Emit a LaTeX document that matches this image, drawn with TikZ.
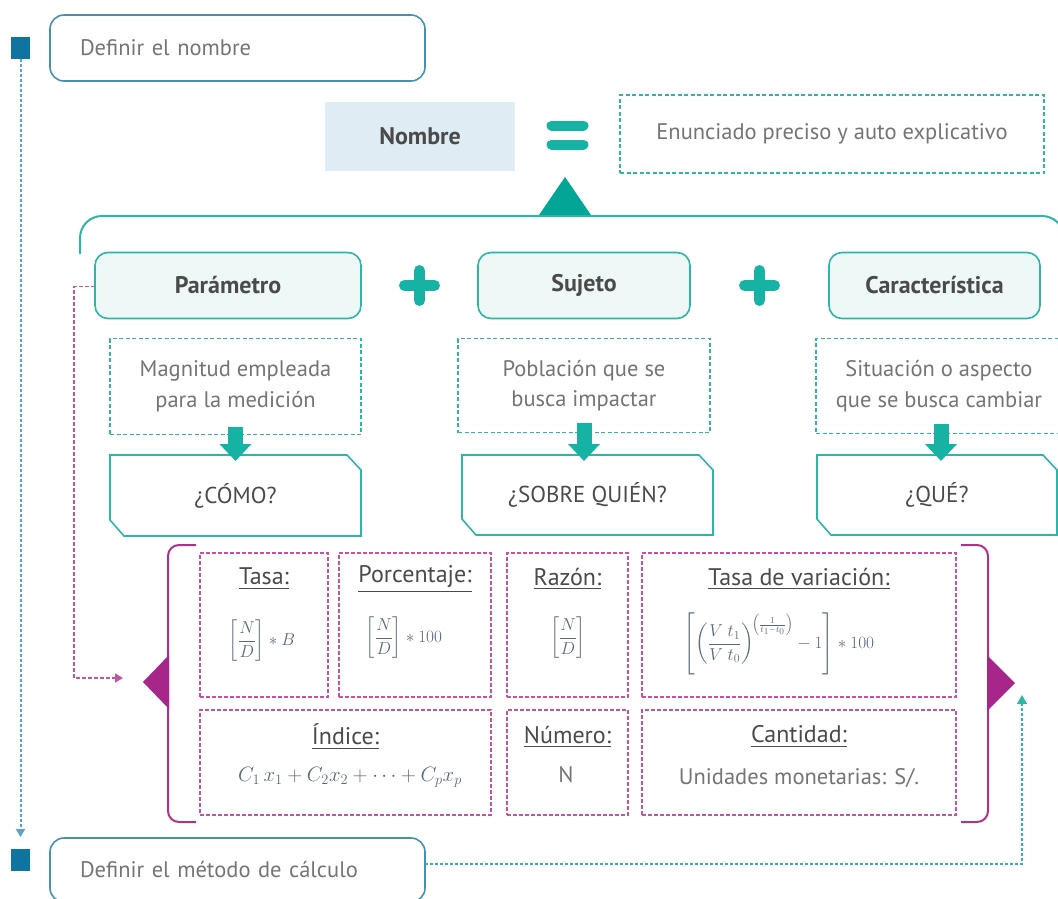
\documentclass[tikz,border=0pt]{standalone}
\usepackage{amsmath}
\usepackage{fontspec}
\setmainfont{PT Sans}
\usetikzlibrary{arrows.meta,calc}
\definecolor{tealc}{HTML}{2DB5A6}
\definecolor{tealfill}{HTML}{16B3A5}
\definecolor{tealdark}{HTML}{03A696}
\definecolor{teallight}{HTML}{EEF8F7}
\definecolor{bluec}{HTML}{0F74A0}
\definecolor{blueline}{HTML}{4691B0}
\definecolor{bluedash}{HTML}{5BA3C7}
\definecolor{nombrefill}{HTML}{DFECF3}
\definecolor{magc}{HTML}{A9338F}
\definecolor{magtri}{HTML}{A6268A}
\definecolor{magdash}{HTML}{C552A5}
\definecolor{textdark}{HTML}{4A4A4A}
\definecolor{textgray}{HTML}{747474}
\definecolor{mathc}{HTML}{5A6878}
\tikzset{
  every node/.style={inner sep=0pt, outer sep=0pt},
  bluebox/.style={draw=blueline, line width=1.6pt, rounded corners=14pt, text=textgray,
    font=\fontsize{22.5}{26}\selectfont, align=left},
  headbox/.style={draw=tealc, fill=teallight, line width=1.6pt, rounded corners=13pt,
    text=textdark, font=\fontsize{24}{28}\selectfont\bfseries, minimum height=66pt},
  descbox/.style={draw=tealc, line width=1.3pt, dash pattern=on 4pt off 2.5pt,
    text=textgray, font=\fontsize{22.5}{30.5}\selectfont, align=center},
  qtext/.style={text=textdark, font=\fontsize{23}{26}\selectfont},
  qshape/.style={draw=tealc, line width=1.6pt},
  blockarrow/.style={draw=tealfill, line width=15pt, -{Triangle[width=31pt,length=17pt]}},
  cell/.style={draw=magdash, line width=1.6pt, dash pattern=on 4pt off 2pt},
  celllabel/.style={text=textdark, font=\fontsize{24}{28}\selectfont},
  cellval/.style={text=mathc, font=\fontsize{17}{20}\selectfont},
  cellvaltext/.style={text=textgray, font=\fontsize{22.5}{26}\selectfont},
  solidsign/.style={draw=tealfill, line width=11pt, line cap=round},
  magbracket/.style={draw=magc, line width=2pt, rounded corners=11pt},
  sq/.style={fill=bluec, minimum width=19pt, minimum height=22pt},
}
\begin{document}
\begin{tikzpicture}[x=1pt,y=-1pt]
\useasboundingbox (0,0) rectangle (1058,898);
\coordinate (r1) at (0,579);
\coordinate (r2) at (0,737);
\coordinate (cx) at (941,0);
\coordinate (tx) at (1022,0);
\coordinate (mk) at (74,0);

% left blue squares and dotted flow line
\node[sq] (sq1) at (20.5,48) {};
\node[sq] (sq2) at (20.5,860) {};
\draw[bluedash, line width=2pt, dash pattern=on 3pt off 2pt, -{Triangle[width=9pt,length=8pt]},
  shorten >=12pt] (sq1.south) -- (sq2.north);

% top / bottom boxes
\node[bluebox, minimum width=375pt, minimum height=66pt, text width=315pt, inner xsep=30pt]
  (defnom) at (237.5,48) {Definir el nombre};
\node[bluebox, minimum width=375pt, minimum height=64pt, text width=315pt, inner xsep=30pt]
  (defmet) at (237.5,870) {Definir el método de cálculo};

% Nombre = Enunciado
\node[fill=nombrefill, minimum width=190pt, minimum height=69pt, text=textdark,
  font=\fontsize{24}{28}\selectfont\bfseries] (nombre) at (420,136) {Nombre};
\node[descbox, minimum width=424pt, minimum height=78pt] (enun) at (832,134)
  {Enunciado preciso y auto explicativo};
\coordinate (eq) at ($(nombre.east)!0.5!(enun.west)$);
\draw[solidsign, line width=10pt] ([xshift=-16pt,yshift=9.5pt]eq) -- ([xshift=16pt,yshift=9.5pt]eq);
\draw[solidsign, line width=10pt] ([xshift=-16pt,yshift=-9.5pt]eq) -- ([xshift=16pt,yshift=-9.5pt]eq);

% triangle and teal bracket
\fill[tealdark] (538,216.5) -- (565,177) -- (592,216.5) -- cycle;
\draw[tealc, line width=2pt, rounded corners=22pt] (80,254) -- (80,216) -- (1064,216) -- (1064,270);

% head boxes
\node[headbox, minimum width=266pt] (param) at (228,285.5) {Parámetro};
\node[headbox, minimum width=212pt] (suj) at (584,285.5) {Sujeto};
\node[headbox, minimum width=211pt] (car) at (934.5,285.5) {Característica};
\coordinate (p1) at ($(param.east)!0.5!(suj.west)$);
\coordinate (p2) at ($(suj.east)!0.5!(car.west)$);
\foreach \p in {p1,p2}{
  \draw[solidsign] ([xshift=-15pt]\p) -- ([xshift=15pt]\p);
  \draw[solidsign] ([yshift=-15pt]\p) -- ([yshift=15pt]\p);
}

% description boxes
\node[descbox, minimum width=251pt, minimum height=96pt] (pd) at (235.5,386.5)
  {Magnitud empleada\\para la medición};
\node[descbox, minimum width=252pt, minimum height=94pt] (sd) at (584,385.5)
  {Población que se\\busca impactar};
\node[descbox, minimum width=246pt, minimum height=95pt] (cd) at (939,386)
  {Situación o aspecto\\que se busca cambiar};

% question boxes
\node[qtext, minimum width=251pt, minimum height=81pt] (pq) at (235.5,495.5) {¿CÓMO?};
\node[qtext, minimum width=251pt, minimum height=80pt] (sq) at (587.5,495) {¿SOBRE QUIÉN?};
\node[qtext, minimum width=240pt, minimum height=80pt] (cq) at (937,495) {¿QUÉ?};
\foreach \q in {pq,sq,cq}{
  \draw[qshape] (\q.north west) -- ([xshift=-14pt]\q.north east) -- ([yshift=-15pt]\q.north east)
    -- (\q.south east) -- ([xshift=14pt]\q.south west) -- ([yshift=16pt]\q.south west) -- cycle;
}
\draw[blockarrow] ([yshift=8pt]pd.south -| pq.north) -- ([yshift=-6pt]pq.north);
\draw[blockarrow] ([yshift=10pt]sd.south) -- ([yshift=-6pt]sd.south |- sq.north);
\draw[blockarrow] ([yshift=10pt]cd.south -| cx) -- ([yshift=-6pt]cq.north -| cx);

% magenta brackets and triangles
\draw[magbracket] (196,545) -- (168,545) -- (168,822) -- (196,822);
\draw[magbracket] (961,545) -- (988,545) -- (988,822) -- (961,822);
\fill[magtri] (169,655) -- (143,682) -- (169,709) -- cycle;
\fill[magtri] (987,655) -- (1015,683) -- (987,711) -- cycle;

% cells
\node[cell, minimum width=128pt, minimum height=144pt] (tasa) at (264,625) {};
\node[cell, minimum width=152pt, minimum height=144pt] (porc) at (415,625) {};
\node[cell, minimum width=121pt, minimum height=144pt] (razon) at (567.5,625) {};
\node[cell, minimum width=314pt, minimum height=144pt] (tvar) at (799,625) {};
\node[cell, minimum width=291pt, minimum height=105pt] (indice) at (345.5,762.5) {};
\node[cell, minimum width=121pt, minimum height=105pt] (numero) at (567.5,762.5) {};
\node[cell, minimum width=314pt, minimum height=105pt] (cant) at (799,762.5) {};

\node[celllabel] (l1) at (tasa.north |- r1) {\underline{Tasa:}};
\node[celllabel] (l2) at (porc.north |- r1) {\underline{Porcentaje:}};
\node[celllabel] (l3) at (razon.north |- r1) {\underline{Razón:}};
\node[celllabel] (l4) at (tvar.north |- r1) {\underline{Tasa de variación:}};
\node[celllabel] (l5) at (indice.north |- r2) {\underline{Índice:}};
\node[celllabel] (l6) at (numero.north |- r2) {\underline{Número:}};
\node[celllabel] (l7) at (cant.north |- r2) {\underline{Cantidad:}};

\node[cellval] (f1) at (262,641) {$\left[\dfrac{N}{D}\right]\ast B$};
\node[cellval] (f2) at (404,638) {$\left[\dfrac{N}{D}\right]\ast 100$};
\node[cellval] (f3) at (568,638) {$\left[\dfrac{N}{D}\right]$};
\node[cellval, font=\fontsize{18.5}{22}\selectfont] (f4) at (779,644)
  {$\left[\left(\dfrac{V\;t_1}{V\;t_0}\right)^{\!\left(\frac{1}{t_1-t_0}\right)}-1\right]\ast 100$};
\node[cellval, font=\fontsize{19.5}{23}\selectfont] (f5) at (350,777) {$C_1\,x_1+C_2x_2+\cdots+C_px_p$};
\node[cellvaltext] (f6) at (566,775) {N};
\node[cellvaltext] (f7) at (799,778) {Unidades monetarias: S/.};

% dashed connectors
\draw[magdash, line width=1.6pt, dash pattern=on 4pt off 2pt, -{Triangle[width=9pt,length=8pt]}]
  ([yshift=-1pt]param.west) -- ([yshift=-1pt]param.west -| mk) -- (74,678) -- (123,678);
\draw[tealc, line width=1.6pt, dash pattern=on 3pt off 2pt, -{Triangle[width=10pt,length=9pt]}]
  ([yshift=6pt]defmet.east) -- ([yshift=6pt]defmet.east -| tx) -- (1022,695);
\end{tikzpicture}
\end{document}
